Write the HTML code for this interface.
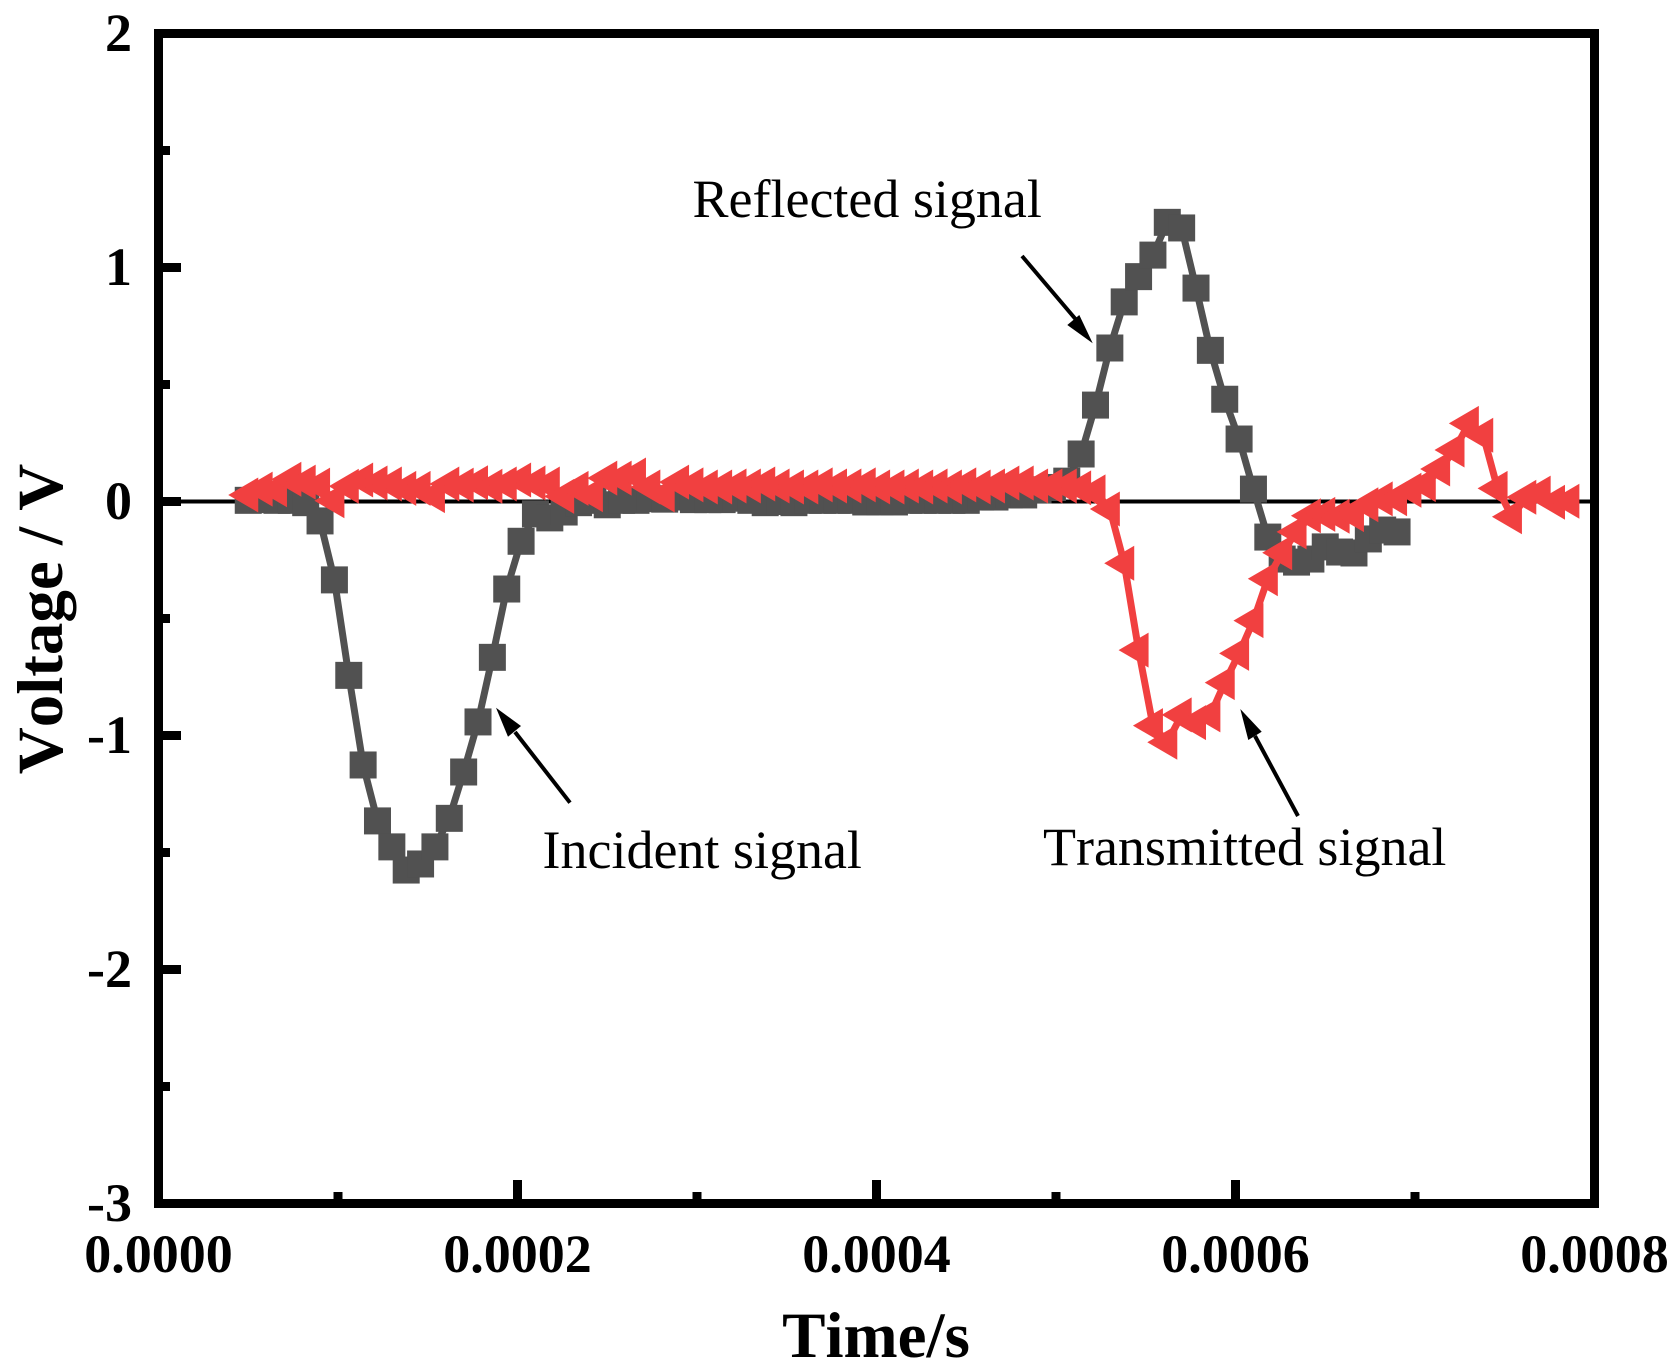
<!DOCTYPE html>
<html lang="en">
<head>
<meta charset="utf-8">
<title>Voltage vs Time signals</title>
<style>
html,body{margin:0;padding:0;background:#fff;}
svg{display:block;}
text{font-family:"Liberation Serif","Times New Roman",serif;fill:#000;font-kerning:none;}
.tick{font-size:54px;font-weight:bold;}
.axis{font-size:65px;font-weight:bold;}
.note{font-size:54px;}
</style>
</head>
<body>
<svg id="chart" xmlns="http://www.w3.org/2000/svg" width="1680" height="1372" viewBox="0 0 1680 1372">
  <rect x="0" y="0" width="1680" height="1372" fill="#fff"/>
  <g id="axes"></g>
  <g id="series"></g>
  <rect x="158.5" y="33.5" width="1436" height="1170" fill="none" stroke="#000" stroke-width="9"/>
  <g id="ticks"></g>
  <text class="axis" x="876" y="1357" text-anchor="middle">Time/s</text>
  <text class="axis" transform="translate(62 619) rotate(-90)" text-anchor="middle">Voltage / V</text>

  <text class="note" x="692.5" y="217">Reflected signal</text>
  <text class="note" x="542.5" y="868">Incident signal</text>
  <text class="note" x="1043" y="865">Transmitted signal</text>

  <g>
    <line x1="1022" y1="256" x2="1078" y2="322" stroke="#000" stroke-width="4"/>
    <polygon points="1092.7,343.3 1067.3,325 1079.3,315" fill="#000"/>
  </g>
  <g>
    <line x1="570" y1="802.7" x2="515" y2="732" stroke="#000" stroke-width="4"/>
    <polygon points="496,707.7 521,726 508,736.7" fill="#000"/>
  </g>
  <g>
    <line x1="1298" y1="816" x2="1255" y2="736" stroke="#000" stroke-width="4"/>
    <polygon points="1240.3,709 1261.7,731.7 1248.3,740" fill="#000"/>
  </g>
</svg>
<script>
// Chart data
var timeMicroseconds = [50,58,66,74,82,90,98,106,114,122,130,138,146,154,162,170,178,186,194,202,210,218,226,234,242,250,258,266,274,282,290,298,306,314,322,330,338,346,354,362,370,378,386,394,402,410,418,426,434,442,450,458,466,474,482,490,498,506,514,522,530,538,546,554,562,570,578,586,594,602,610,618,626,634,642,650,658,666,674,682,690,698,706,714,722,730,738,746,754,762,770,778,786];

var incidentReflectedVolts = [0.005,0.008,0.005,0.005,-0.005,-0.083,-0.335,-0.743,-1.126,-1.365,-1.476,-1.575,-1.549,-1.476,-1.354,-1.156,-0.942,-0.666,-0.374,-0.170,-0.053,-0.070,-0.045,-0.005,0.005,-0.014,0.005,0.005,0.012,0.010,0.019,0.008,0.008,0.008,0.014,0.005,-0.005,0.000,-0.005,0.005,0.005,0.005,0.005,-0.002,-0.002,-0.002,0.005,0.005,0.005,0.005,0.005,0.019,0.019,0.028,0.028,0.050,0.060,0.087,0.203,0.412,0.656,0.853,0.961,1.053,1.193,1.169,0.912,0.646,0.437,0.267,0.053,-0.152,-0.246,-0.259,-0.246,-0.194,-0.216,-0.220,-0.160,-0.122,-0.130];

var transmittedVolts = [0.028,0.053,0.050,0.095,0.083,0.070,0.003,0.065,0.092,0.079,0.075,0.056,0.056,0.025,0.075,0.070,0.080,0.065,0.075,0.092,0.079,0.075,0.022,0.056,0.029,0.100,0.100,0.113,0.062,0.028,0.083,0.071,0.062,0.062,0.066,0.066,0.075,0.066,0.062,0.062,0.071,0.066,0.066,0.071,0.062,0.062,0.066,0.062,0.066,0.062,0.071,0.062,0.066,0.079,0.079,0.066,0.066,0.066,0.058,0.041,-0.032,-0.264,-0.635,-0.958,-1.029,-0.912,-0.945,-0.912,-0.774,-0.649,-0.509,-0.330,-0.219,-0.130,-0.061,-0.055,-0.063,-0.056,-0.014,0.011,0.012,0.048,0.072,0.139,0.220,0.334,0.283,0.056,-0.065,0.018,0.036,-0.003,0.001];

var yTickValues = [2,1,0,-1,-2,-3];
var yTickLabels = ["2","1","0","-1","-2","-3"];
var yMinorTickValues = [1.5,0.5,-0.5,-1.5,-2.5];
var xTickValues = [0,0.0002,0.0004,0.0006,0.0008];
var xTickLabels = ["0.0000","0.0002","0.0004","0.0006","0.0008"];
var xMinorTickValues = [0.0001,0.0003,0.0005,0.0007];

var NS = 'http://www.w3.org/2000/svg';
function xScale(seconds){ return 158.5 + (seconds / 0.0008) * 1436; }
function yScale(volts){ return 501.5 - volts * 234; }
function timeAt(i){ return timeMicroseconds[i] * 1e-6; }
function make(tag, parent){
  var el = document.createElementNS(NS, tag);
  parent.appendChild(el);
  return el;
}
function linePoints(values){
  return values.map(function(v, i){
    return xScale(timeAt(i)).toFixed(2) + ',' + yScale(v).toFixed(2);
  }).join(' ');
}

var axesGroup = document.getElementById('axes');
var seriesGroup = document.getElementById('series');
var ticksGroup = document.getElementById('ticks');

// Zero reference line
var zeroLine = make('line', axesGroup);


zeroLine.setAttribute('x1', xScale(0));
zeroLine.setAttribute('x2', xScale(0.0008));
zeroLine.setAttribute('y1', yScale(0));
zeroLine.setAttribute('y2', yScale(0));
zeroLine.setAttribute('stroke', '#000');
zeroLine.setAttribute('stroke-width', '4');

// Incident / reflected series
var grayGroup = make('g', seriesGroup);


var grayLine = make('polyline', grayGroup);


grayLine.setAttribute('points', linePoints(incidentReflectedVolts));
grayLine.setAttribute('fill', 'none');
grayLine.setAttribute('stroke', '#515151');
grayLine.setAttribute('stroke-width', '7');
grayLine.setAttribute('stroke-linejoin', 'round');
incidentReflectedVolts.forEach(function(v, i){
  var square = make('rect', grayGroup);
  
  
  square.setAttribute('x', (xScale(timeAt(i)) - 13.5).toFixed(2));
  square.setAttribute('y', (yScale(v) - 13.5).toFixed(2));
  square.setAttribute('width', '27');
  square.setAttribute('height', '27');
  square.setAttribute('fill', '#515151');
});

// Transmitted series
var redGroup = make('g', seriesGroup);


var redLine = make('polyline', redGroup);


redLine.setAttribute('points', linePoints(transmittedVolts));
redLine.setAttribute('fill', 'none');
redLine.setAttribute('stroke', '#F14040');
redLine.setAttribute('stroke-width', '7');
redLine.setAttribute('stroke-linejoin', 'round');
transmittedVolts.forEach(function(v, i){
  var cx = xScale(timeAt(i));
  var cy = yScale(v);
  var tri = make('polygon', redGroup);
  
  
  tri.setAttribute('points', (cx - 20).toFixed(2) + ',' + cy.toFixed(2) + ' ' + (cx + 10).toFixed(2) + ',' + (cy - 17.5).toFixed(2) + ' ' + (cx + 10).toFixed(2) + ',' + (cy + 17.5).toFixed(2));
  tri.setAttribute('fill', '#F14040');
});

// Y axis ticks
yTickValues.forEach(function(v, i){
  var y = yScale(v);
  if (i > 0 && i < yTickValues.length - 1) {
    var tick = make('line', ticksGroup);
    
    
    tick.setAttribute('x1', '158.5');
    tick.setAttribute('x2', '181');
    tick.setAttribute('y1', y);
    tick.setAttribute('y2', y);
    tick.setAttribute('stroke', '#000');
    tick.setAttribute('stroke-width', '9');
  }
  var label = make('text', ticksGroup);
  
  
  label.setAttribute('class', 'tick');
  label.setAttribute('x', '132');
  label.setAttribute('y', y + 17.5);
  label.setAttribute('text-anchor', 'end');
  label.textContent = yTickLabels[i];
});
yMinorTickValues.forEach(function(v){
  var y = yScale(v);
  var tick = make('line', ticksGroup);
  
  
  tick.setAttribute('x1', '158.5');
  tick.setAttribute('x2', '170');
  tick.setAttribute('y1', y);
  tick.setAttribute('y2', y);
  tick.setAttribute('stroke', '#000');
  tick.setAttribute('stroke-width', '9');
});

// X axis ticks
xTickValues.forEach(function(v, i){
  var x = xScale(v);
  if (i > 0 && i < xTickValues.length - 1) {
    var tick = make('line', ticksGroup);
    
    
    tick.setAttribute('x1', x);
    tick.setAttribute('x2', x);
    tick.setAttribute('y1', '1203.5');
    tick.setAttribute('y2', '1180');
    tick.setAttribute('stroke', '#000');
    tick.setAttribute('stroke-width', '9');
  }
  var label = make('text', ticksGroup);
  
  
  label.setAttribute('class', 'tick');
  label.setAttribute('x', x);
  label.setAttribute('y', '1272');
  label.setAttribute('text-anchor', 'middle');
  label.textContent = xTickLabels[i];
});
xMinorTickValues.forEach(function(v){
  var x = xScale(v);
  var tick = make('line', ticksGroup);
  
  
  tick.setAttribute('x1', x);
  tick.setAttribute('x2', x);
  tick.setAttribute('y1', '1203.5');
  tick.setAttribute('y2', '1192');
  tick.setAttribute('stroke', '#000');
  tick.setAttribute('stroke-width', '9');
});
</script>
</body>
</html>
